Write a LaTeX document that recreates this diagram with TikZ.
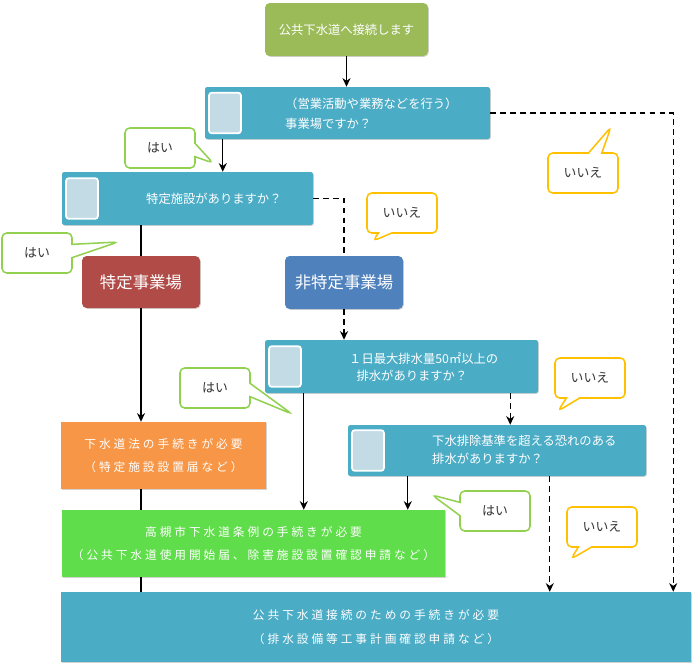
\documentclass[tikz,border=0pt]{standalone}
\usepackage{fontspec}
\setmainfont{Noto Sans CJK JP}
\newfontfamily\widejp[LetterSpace=25]{Noto Sans CJK JP}
\usepackage{xcolor}
\usetikzlibrary{arrows.meta,positioning,shapes.callouts,shadows}

\definecolor{topgreen}{HTML}{9BBB59}
\definecolor{qblue}{HTML}{4BACC6}
\definecolor{sqfill}{HTML}{C3DBE4}
\definecolor{tokured}{HTML}{B04B47}
\definecolor{hitokublue}{HTML}{4F81BD}
\definecolor{houorange}{HTML}{F79646}
\definecolor{joreigreen}{HTML}{5FDD4A}
\definecolor{haigreen}{HTML}{92D050}
\definecolor{iieorange}{HTML}{FFC000}

\begin{document}
\begin{tikzpicture}[
  x=0.03cm, y=-0.03cm,
  base/.style={rectangle, inner sep=0pt, text=white, align=center,
    drop shadow={shadow xshift=0.7pt, shadow yshift=-0.7pt, fill=black!35, opacity=0.5}},
  wh/.style 2 args={minimum width=#1*0.03cm, minimum height=#2*0.03cm},
  qbox/.style={base, fill=qblue, rounded corners=2pt},
  sqr/.style={rectangle, fill=sqfill, draw=white, line width=1.5pt, rounded corners=2.5pt,
    minimum width=0.96cm, minimum height=1.22cm, anchor=west, inner sep=0pt},
  qtext/.style={anchor=west, align=left, text=white, inner sep=0pt,
    font=\fontsize{10.5}{15}\selectfont},
  wide/.style={font=\widejp\fontsize{10}{20}\selectfont},
  hai/.style={rectangle callout, draw=haigreen, line width=1.3pt, fill=white,
    rounded corners=4pt, minimum width=2.1cm, minimum height=1.2cm,
    callout pointer width=0.4cm, font=\fontsize{11}{13}\selectfont, text=black!80},
  iie/.style={hai, draw=iieorange},
  arrow/.style={-{Stealth[length=2.6mm,width=2.4mm]}, line width=1.1pt},
  dasharrow/.style={arrow, dash pattern=on 5pt off 3.5pt},
  dline/.style={line width=1.1pt, dash pattern=on 5pt off 3.5pt},
  line/.style={line width=1.1pt}
]
  \useasboundingbox (0,0) rectangle (700,670);

  \node[base, wh={163}{53}, fill=topgreen, rounded corners=4pt,
    font=\fontsize{10.5}{13}\selectfont] (start) at (346.5,29.5) {公共下水道へ接続します};

  \node[qbox, wh={285}{52}] (q1) at (347.5,113) {};
  \node[sqr] (q1sq) at ([xshift=0.1cm]q1.west) {};
  \node[qtext] (q1t) at (285,114) {（営業活動や業務などを行う）\\[2pt]事業場ですか？};

  \node[qbox, wh={251}{53}] (q2) at (187.5,198.5) {};
  \node[sqr] (q2sq) at ([xshift=0.1cm]q2.west) {};
  \node[qtext] (q2t) at (146,199) {特定施設がありますか？};

  \node[base, wh={118}{52}, fill=tokured, rounded corners=4pt,
    font=\fontsize{14}{16}\selectfont] (toku) at (141,282) {特定事業場};
  \node[base, wh={118}{53}, fill=hitokublue, rounded corners=4pt,
    font=\fontsize{14}{16}\selectfont] (hitoku) at (344,282.5) {非特定事業場};

  \node[qbox, wh={273}{53}] (q3) at (401.5,366.5) {};
  \node[sqr] (q3sq) at ([xshift=0.1cm]q3.west) {};
  \node[qtext] (q3t) at (349,367) {１日最大排水量50㎡以上の\\\hspace{0.6em}排水がありますか？};

  \node[qbox, wh={298}{51}] (q4) at (497,450.5) {};
  \node[sqr] (q4sq) at ([xshift=0.1cm]q4.west) {};
  \node[qtext] (q4t) at (432,450) {下水排除基準を超える恐れのある\\排水がありますか？};

  \node[base, wide, wh={205}{67}, fill=houorange] (hou) at (163.5,455.5)
    {下水道法の手続きが必要\\（特定施設設置届など）};
  \node[base, wide, wh={383}{67}, fill=joreigreen] (jorei) at (253.5,543.5)
    {高槻市下水道条例の手続きが必要\\（公共下水道使用開始届、除害施設設置確認申請など）};
  \node[base, wide, wh={630}{70}, fill=qblue] (bot) at (376,627)
    {公共下水道接続のための手続きが必要\\（排水設備等工事計画確認申請など）};

  \node[hai, callout absolute pointer={(213,163)}] (hai1) at (160,148) {はい};
  \node[iie, callout absolute pointer={(611,127)}] (iie1) at (583,173) {いいえ};
  \node[iie, callout absolute pointer={(373,241)}] (iie2) at (402,213) {いいえ};
  \node[hai, callout absolute pointer={(118,242)}] (hai2) at (37,253) {はい};
  \node[hai, callout absolute pointer={(292,414)}] (hai3) at (215,388) {はい};
  \node[iie, callout absolute pointer={(558,411)}] (iie3) at (590,378) {いいえ};
  \node[hai, callout absolute pointer={(432,495)}] (hai4) at (495,511) {はい};
  \node[iie, callout absolute pointer={(571,559)}] (iie4) at (602,527) {いいえ};

  \draw[arrow] (start.south) -- (start.south |- q1.north);
  \draw[dasharrow] (q1.east) -| ([xshift=-0.54cm]bot.north east);
  \draw[arrow] ([xshift=0.54cm]q1.south west) -- ([xshift=0.54cm]q1.south west |- q2.north);
  \draw[dline] (q2.east) -| (hitoku.north);
  \draw[line] (q2.south -| toku.north) -- (toku.north);
  \draw[arrow] (toku.south) -- (toku.south |- hou.north);
  \draw[line] (toku.south |- hou.south) -- (toku.south |- jorei.north);
  \draw[line] (toku.south |- jorei.south) -- (toku.south |- bot.north);
  \draw[dasharrow] (hitoku.south) -- (hitoku.south |- q3.north);
  \draw[arrow] ([xshift=1.17cm]q3.south west) -- ([xshift=1.17cm]q3.south west |- jorei.north);
  \draw[dasharrow] ([xshift=-0.84cm]q3.south east) -- ([xshift=-0.84cm]q3.south east |- q4.north);
  \draw[arrow] ([xshift=1.8cm]q4.south west) -- ([xshift=1.8cm]q4.south west |- jorei.north);
  \draw[dasharrow] ([xshift=6.06cm]q4.south west) -- ([xshift=6.06cm]q4.south west |- bot.north);
\end{tikzpicture}
\end{document}
